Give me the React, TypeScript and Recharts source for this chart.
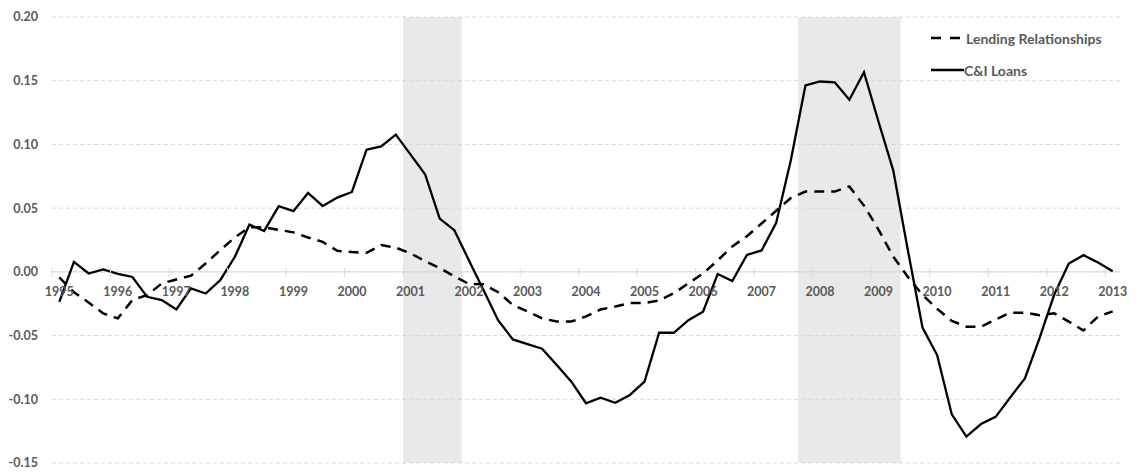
import {
  ComposedChart,
  Line,
  XAxis,
  YAxis,
  CartesianGrid,
  ReferenceArea,
  ReferenceLine,
} from 'recharts';

// Categories: quarterly, 1995Q1 .. 2013Q1
const years = [1995, 1996, 1997, 1998, 1999, 2000, 2001, 2002, 2003, 2004, 2005, 2006, 2007, 2008, 2009, 2010, 2011, 2012, 2013];
const quarters: string[] = [];
years.forEach((y) => {
  ['Q1', 'Q2', 'Q3', 'Q4'].forEach((q) => {
    if (y < 2013 || q === 'Q1') quarters.push(`${y}${q}`);
  });
});

// Series values (read off the picture)
const lendingRelationships = [
  -0.0044, -0.016, -0.024, -0.0326, -0.0365, -0.022, -0.0183, -0.0091, -0.006, -0.003, 0.0066, 0.017,
  0.027, 0.035, 0.035, 0.033, 0.031, 0.027, 0.0235, 0.0165, 0.0155, 0.015, 0.021, 0.019,
  0.0145, 0.0085, 0.003, -0.0035, -0.0095, -0.0098, -0.016, -0.026, -0.031, -0.0365, -0.039, -0.039,
  -0.035, -0.0295, -0.0272, -0.0245, -0.0245, -0.0225, -0.0168, -0.009, -0.0013, 0.009, 0.02, 0.028,
  0.038, 0.048, 0.058, 0.063, 0.063, 0.063, 0.067, 0.052, 0.033, 0.012, -0.004, -0.018,
  -0.029, -0.0385, -0.043, -0.043, -0.0375, -0.032, -0.032, -0.034, -0.0325, -0.039, -0.046, -0.035,
  -0.031,
];

const ciLoans = [
  -0.0235, 0.0078, -0.0013, 0.0019, -0.0015, -0.004, -0.0196, -0.0222, -0.0295, -0.013, -0.017, -0.0065,
  0.0118, 0.0371, 0.0321, 0.0515, 0.0476, 0.0619, 0.0517, 0.0583, 0.0627, 0.0959, 0.0985, 0.1077,
  0.0922, 0.0766, 0.0418, 0.0327, 0.009, -0.0145, -0.0381, -0.053, -0.0567, -0.0603, -0.0731, -0.0862,
  -0.1031, -0.0988, -0.1027, -0.0966, -0.0862, -0.0478, -0.0478, -0.0379, -0.0313, -0.0017, -0.0072, 0.0133,
  0.0168, 0.0385, 0.0876, 0.1463, 0.1494, 0.1487, 0.1351, 0.1567, 0.1176, 0.0797, 0.017, -0.0437,
  -0.0653, -0.1118, -0.1293, -0.1194, -0.1138, -0.0985, -0.0836, -0.052, -0.018, 0.0066, 0.0131, 0.0074,
  0.0005,
];

const yTicks = [-0.15, -0.1, -0.05, 0, 0.05, 0.1, 0.15, 0.2];

// recessions (first and last quarter shaded)
const recessions = [
  ['2001Q1', '2001Q4'],
  ['2007Q4', '2009Q2'],
];

const data = quarters.map((q, i) => ({
  q,
  lending: lendingRelationships[i],
  loans: ciLoans[i],
}));

const W = 1131;
const H = 465;
const MARGIN = { top: 9, right: 19, bottom: 0, left: 0 };
const Y_AXIS_W = 44;
const X_AXIS_H = 10;
const PLOT_W = W - MARGIN.left - MARGIN.right - Y_AXIS_W;
const PLOT_H = H - MARGIN.top - MARGIN.bottom - X_AXIS_H;
const ZERO_Y = MARGIN.top + PLOT_H * (0.2 / 0.35);
const HALF_BAND = PLOT_W / quarters.length / 2;

const FONT = 'Lato, "Open Sans", sans-serif';
const TEXT = '#595959';

const XTick = (props: any) => {
  const { x, payload } = props;
  return (
    <g>
      <line x1={x - HALF_BAND} x2={x - HALF_BAND} y1={ZERO_Y - 4} y2={ZERO_Y + 5} stroke="#d9d9d9" />
      <text x={x} y={ZERO_Y + 24} textAnchor="middle" fill={TEXT} fontSize={12.5} fontWeight="bold" fontFamily={FONT}>
        {String(payload.value).slice(0, 4)}
      </text>
    </g>
  );
};

// shading covers the whole first and last quarter, not just their centres
const RecessionShape = (p: any) => (
  <rect
    x={p.x - HALF_BAND}
    y={p.y}
    width={p.width + 2 * HALF_BAND}
    height={p.height}
    fill="#d4d4d4"
    fillOpacity={0.5}
  />
);

const LegendBox = () => (
  <div
    style={{
      position: 'absolute',
      top: 20,
      left: 920,
      fontFamily: FONT,
      fontSize: 14,
      fontWeight: 'bold',
      color: TEXT,
    }}
  >
    <div style={{ display: 'flex', alignItems: 'center', height: 20 }}>
      <svg width={38} height={10}>
        <line x1={3} x2={34} y1={5} y2={5} stroke="#000" strokeWidth={2.5} strokeDasharray="10 9" />
      </svg>
      <span>Lending Relationships</span>
    </div>
    <div style={{ display: 'flex', alignItems: 'center', height: 20, marginTop: 12 }}>
      <svg width={38} height={10}>
        <line x1={3} x2={36} y1={5} y2={5} stroke="#000" strokeWidth={2.3} />
      </svg>
      <span style={{ marginLeft: -2 }}>C&amp;I Loans</span>
    </div>
  </div>
);

export default function App() {
  return (
    <div style={{ position: 'relative', width: W, height: H }}>
      <ComposedChart width={W} height={H} data={data} margin={MARGIN}>
        <CartesianGrid vertical={false} stroke="#d9d9d9" strokeDasharray="4 3" />
        {recessions.map(([a, b]) => (
          <ReferenceArea key={a} x1={a} x2={b} shape={RecessionShape} />
        ))}
        <ReferenceLine y={0} stroke="#d9d9d9" strokeWidth={1} />
        <XAxis
          dataKey="q"
          height={X_AXIS_H}
          interval={3}
          padding={{ left: HALF_BAND, right: HALF_BAND }}
          axisLine={false}
          tickLine={false}
          tick={<XTick />}
        />
        <YAxis
          width={Y_AXIS_W}
          domain={[-0.15, 0.2]}
          ticks={yTicks}
          axisLine={false}
          tickLine={false}
          tickMargin={8}
          tickFormatter={(v: number) => v.toFixed(2)}
          tick={{ fill: TEXT, fontSize: 12.5, fontWeight: 'bold', fontFamily: FONT }}
        />
        <Line
          type="linear"
          dataKey="lending"
          name="Lending Relationships"
          stroke="#000"
          strokeWidth={2.5}
          strokeDasharray="10 7"
          dot={false}
          isAnimationActive={false}
        />
        <Line
          type="linear"
          dataKey="loans"
          name="C&I Loans"
          stroke="#000"
          strokeWidth={2.3}
          dot={false}
          isAnimationActive={false}
        />
      </ComposedChart>
      <LegendBox />
    </div>
  );
}
